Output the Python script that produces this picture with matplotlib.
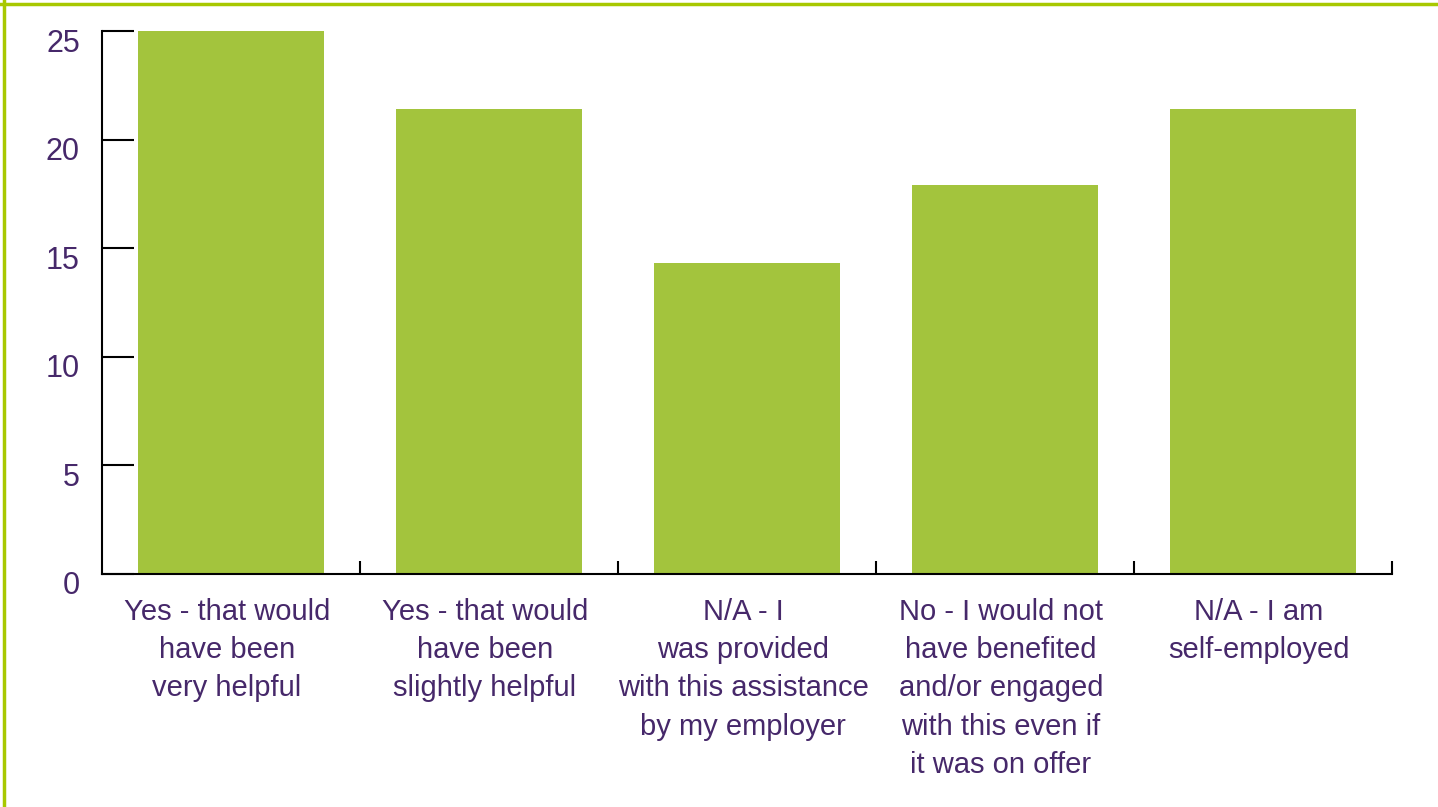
import matplotlib
matplotlib.use("Agg")
import matplotlib.pyplot as plt
from matplotlib.lines import Line2D
from matplotlib.transforms import ScaledTranslation

categories = [
    "Yes - that would\nhave been\nvery helpful",
    "Yes - that would\nhave been\nslightly helpful",
    "N/A - I\nwas provided\nwith this assistance\nby my employer",
    "No - I would not\nhave benefited\nand/or engaged\nwith this even if\nit was on offer",
    "N/A - I am\nself-employed",
]
values = [25.0, 21.4, 14.3, 17.9, 21.4]
y_ticks = [0, 5, 10, 15, 20, 25]

BAR = "#a3c43d"
TEXT = "#46286a"
FRAME = "#a8c800"

plt.rcParams["font.family"] = ["Liberation Sans", "DejaVu Sans"]

fig = plt.figure(figsize=(14.38, 8.07), dpi=100)
W, H = 1438, 807
ax = fig.add_axes([102 / W, (H - 574) / H, (1392 - 102) / W, (574 - 31) / H])

x = range(len(categories))
ax.bar(x, values, width=0.72, color=BAR, zorder=1)

ax.set_xlim(-0.5, len(categories) - 0.5)
ax.set_ylim(0, 25)

for side in ("top", "right"):
    ax.spines[side].set_visible(False)
for side in ("left", "bottom"):
    ax.spines[side].set_linewidth(1.5)
    ax.spines[side].set_color("black")
    ax.spines[side].set_zorder(3)

ax.set_yticks(y_ticks)
ax.set_yticklabels([str(v) for v in y_ticks])
ax.tick_params(axis="y", direction="in", length=23, width=1.5, pad=16,
               labelsize=22, labelcolor=TEXT, color="black")
y_off = ScaledTranslation(0, -9 / 100, fig.dpi_scale_trans)
for lab in ax.get_yticklabels():
    lab.set_transform(lab.get_transform() + y_off)

ax.set_xticks(list(x))
ax.set_xticklabels(categories, fontsize=21, color=TEXT, linespacing=1.47)
ax.tick_params(axis="x", which="major", length=0, pad=17)
x_off = ScaledTranslation(-4 / 100, 0, fig.dpi_scale_trans)
for lab in ax.get_xticklabels():
    lab.set_transform(lab.get_transform() + x_off)
ax.set_xticks([i + 0.5 for i in range(len(categories))], minor=True)
ax.tick_params(axis="x", which="minor", direction="in", length=9.5, width=1.5,
               color="black")

# green page frame along the top and left edges
fig.add_artist(Line2D([0, 1], [1 - 3.5 / H] * 2, color=FRAME, lw=2.5,
                      transform=fig.transFigure))
fig.add_artist(Line2D([3.5 / W] * 2, [0, 1], color=FRAME, lw=2.5,
                      transform=fig.transFigure))

fig.savefig("out.png", dpi=100, facecolor="white")
